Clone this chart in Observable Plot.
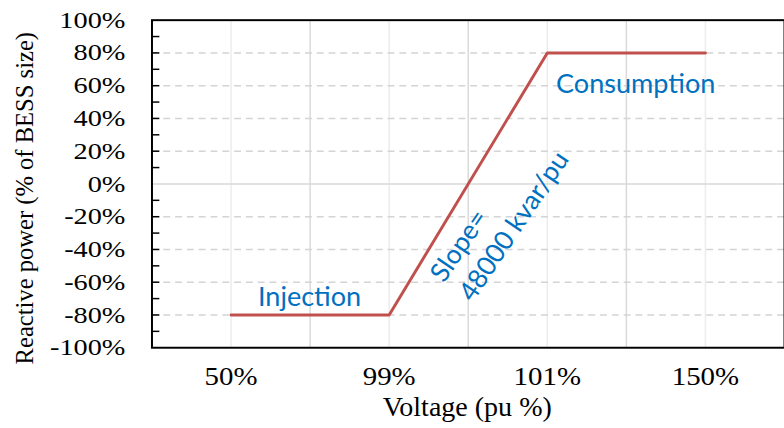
<!DOCTYPE html>
<html><head><meta charset="utf-8">
<script src="https://cdn.jsdelivr.net/npm/d3@7"></script>
<script src="https://cdn.jsdelivr.net/npm/@observablehq/plot@0.6"></script>
<style>html,body{margin:0;padding:0;overflow:hidden;background:#fff;width:784px;height:428px}</style>
</head><body><div id="chart"></div>
<script>
// Data
const voltageLabels = ["50%", "99%", "101%", "150%"];
const voltageIndex = [0, 1, 2, 3];
const reactivePower = [-80, -80, 80, 80];
const yTicks = [-100, -80, -60, -40, -20, 0, 20, 40, 60, 80, 100];
const yMinorTicks = [-90, -80, -70, -60, -50, -40, -30, -20, -10, 10, 20, 30, 40, 50, 60, 70, 80, 90];
const gridDashed = [-80, -60, -40, -20, 20, 40, 60, 80];
const gridZero = [0];
const gridLight = [0, 1, 2, 3];
const gridDark = [0.5, 1.5, 2.5];
const xTitle = "Voltage (pu %)";
const yTitle = "Reactive power (% of BESS size)";
const annoInjection = [{text: "Injection", x: 0.17, y: -69}];
const annoConsumption = [{text: "Consumption", x: 2.055, y: 61}];
const annoSlope = [{text: "Slope=\n48000 kvar/pu", x: 1.38, y: -63}];

const table = voltageIndex.map((i) => ({i, v: voltageLabels[i], q: reactivePower[i]}));

const W = 797, ML = 154;
const chart = Plot.plot({
  width: W, height: 428,
  marginLeft: ML, marginRight: 0, marginTop: 20, marginBottom: 75,
  x: {domain: [-0.5, 3.5]},
  y: {domain: [-100, 100]},
  style: {fontFamily: "'Liberation Serif', serif", fontSize: "24px", color: "#000", background: "white", overflow: "visible"},
  marks: [
    Plot.ruleX(gridLight, {stroke: "#ececec", strokeWidth: 1.5}),
    Plot.ruleX(gridDark, {stroke: "#d9d9d9", strokeWidth: 1.5}),
    Plot.ruleY(gridDashed, {stroke: "#d4d4d4", strokeWidth: 1.5, strokeDasharray: "7,5"}),
    Plot.ruleY(gridZero, {stroke: "#d9d9d9", strokeWidth: 1.5}),
    Plot.ruleY(yMinorTicks, {stroke: "#000", strokeWidth: 1.5, insetRight: (W - ML) - 8}),
    Plot.axisY({ticks: yTicks, tickSize: 0, tickPadding: 27, tickFormat: (d) => d + "%", label: null, fontSize: 24}),
    Plot.axisX({ticks: voltageIndex, tickSize: 0, tickPadding: 19, tickFormat: (i) => voltageLabels[i], label: null, fontSize: 26}),
    Plot.frame({stroke: "#000", strokeWidth: 2}),
    Plot.line(table, {x: "i", y: "q", stroke: "#C0504D", strokeWidth: 3}),
    Plot.text([xTitle], {text: (d) => d, frameAnchor: "bottom", textAnchor: "middle", lineAnchor: "middle", dy: 60.6, dx: -1, fontSize: 28.5}),
    Plot.text([yTitle], {text: (d) => d, frameAnchor: "left", textAnchor: "middle", lineAnchor: "middle", rotate: -90, dx: -129, dy: 14.5, fontSize: 25}),
    Plot.text(annoInjection, {x: "x", y: "y", text: "text", textAnchor: "start", fill: "#0070C0", fontFamily: "Lato", fontSize: 27.5}),
    Plot.text(annoConsumption, {x: "x", y: "y", text: "text", textAnchor: "start", fill: "#0070C0", fontFamily: "Lato", fontSize: 27.5}),
    Plot.text(annoSlope, {x: "x", y: "y", text: "text", textAnchor: "start", lineAnchor: "middle", rotate: -56, lineHeight: 1.3, fill: "#0070C0", fontFamily: "Lato", fontSize: 27})
  ]
});
document.getElementById("chart").appendChild(chart);
// horizontal stretch of the axis tick labels, as in the reference
chart.querySelectorAll("text").forEach((el) => {
  const g = el.closest("g[aria-label]");
  const lab = g ? g.getAttribute("aria-label") : "";
  let s = 1;
  if (/^y-axis tick label/.test(lab)) s = 1.2;
  else if (/^x-axis tick label/.test(lab)) s = 1.13;
  if (s === 1 || el.querySelector("tspan")) return;
  const L = el.getComputedTextLength();
  if (L > 0) {
    el.setAttribute("textLength", (L * s).toFixed(1));
    el.setAttribute("lengthAdjust", "spacingAndGlyphs");
  }
});
</script>
</body></html>
